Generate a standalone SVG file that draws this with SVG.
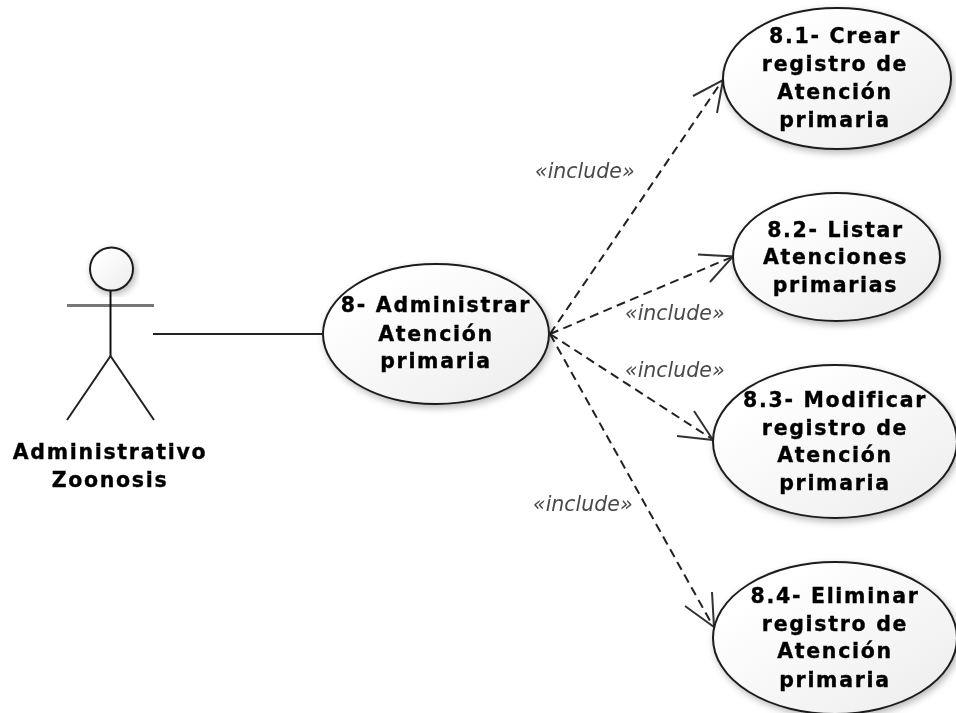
<svg xmlns="http://www.w3.org/2000/svg" width="956" height="713" viewBox="0 0 956 713">
<style>
.n{font-family:"DejaVu Sans",sans-serif;font-weight:700;font-size:20.5px;letter-spacing:1.7px;text-anchor:middle;fill:#000;stroke:#000;stroke-width:.35px}
.s{font-family:"DejaVu Sans",sans-serif;font-style:italic;font-size:20.5px;fill:#4a4a4a}
.e{fill:url(#g);stroke:#1c1c1c;stroke-width:2;filter:url(#sh)}
.l{fill:none;stroke:#222;stroke-width:2}
.d{stroke-dasharray:9 5.500}
.a{fill:none;stroke:#333;stroke-width:2}
</style>
<defs>
<linearGradient id="g" x1="0" y1="0" x2="1" y2="1"><stop offset="0.2" stop-color="#ffffff"/><stop offset="1" stop-color="#ececec"/></linearGradient>
<filter id="sh" x="-15%" y="-15%" width="130%" height="130%"><feDropShadow dx="2" dy="3" stdDeviation="3.500" flood-color="#000" flood-opacity=".28"/></filter>
<filter id="b" x="-2%" y="-2%" width="104%" height="104%"><feGaussianBlur stdDeviation=".55"/></filter>
</defs>
<rect width="956" height="713" fill="#fff"/>
<g filter="url(#b)">
<g id="connectors">
<path class="l" d="M153 334H322"/>
<path class="l d" d="M550 334L722 81"/>
<path class="a" d="M693 96L723 80L717 113"/>
<path class="l d" d="M550 334L732 257"/>
<path class="a" d="M698 254.500L733 256.500L710 282"/>
<path class="l d" d="M550 334L712 439"/>
<path class="a" d="M694 411L713 440L677 436"/>
<path class="l d" d="M550 334L713 626"/>
<path class="a" d="M712 592L714 627L685 606"/>
<text class="s" x="535" y="178">«include»</text>
<text class="s" x="625" y="319.500">«include»</text>
<text class="s" x="625" y="377">«include»</text>
<text class="s" x="533" y="510.500">«include»</text>
</g>
<g id="actor">
<circle class="e" cx="111.500" cy="269" r="21.500"/>
<path d="M67 305.500H154" fill="none" stroke="#777" stroke-width="3"/>
<path d="M110.500 291V356" fill="none" stroke="#111" stroke-width="2"/>
<path class="l" d="M67 420L110.500 356L154 420"/>
<text class="n" x="110" y="459">Administrativo</text>
<text class="n" x="110" y="487">Zoonosis</text>
</g>
<g id="uc8">
<ellipse class="e" cx="436" cy="334" rx="113" ry="70"/>
<text class="n" x="436" y="312">8- Administrar</text>
<text class="n" x="436" y="341">Atención</text>
<text class="n" x="436" y="368">primaria</text>
</g>
<g id="uc81">
<ellipse class="e" cx="837" cy="78.500" rx="114" ry="70.500"/>
<text class="n" x="835" y="43">8.1- Crear</text>
<text class="n" x="835" y="71">registro de</text>
<text class="n" x="835" y="99">Atención</text>
<text class="n" x="835" y="127">primaria</text>
</g>
<g id="uc82">
<ellipse class="e" cx="836.500" cy="257" rx="103.500" ry="64"/>
<text class="n" x="835.500" y="237">8.2- Listar</text>
<text class="n" x="835.500" y="264">Atenciones</text>
<text class="n" x="835.500" y="292">primarias</text>
</g>
<g id="uc83">
<ellipse class="e" cx="835" cy="441.500" rx="122" ry="76.500"/>
<text class="n" x="835" y="407">8.3- Modificar</text>
<text class="n" x="835" y="435">registro de</text>
<text class="n" x="835" y="462">Atención</text>
<text class="n" x="835" y="490">primaria</text>
</g>
<g id="uc84">
<ellipse class="e" cx="835" cy="638" rx="122" ry="76"/>
<text class="n" x="835" y="603">8.4- Eliminar</text>
<text class="n" x="835" y="631">registro de</text>
<text class="n" x="835" y="658">Atención</text>
<text class="n" x="835" y="687">primaria</text>
</g>
</g>
</svg>
